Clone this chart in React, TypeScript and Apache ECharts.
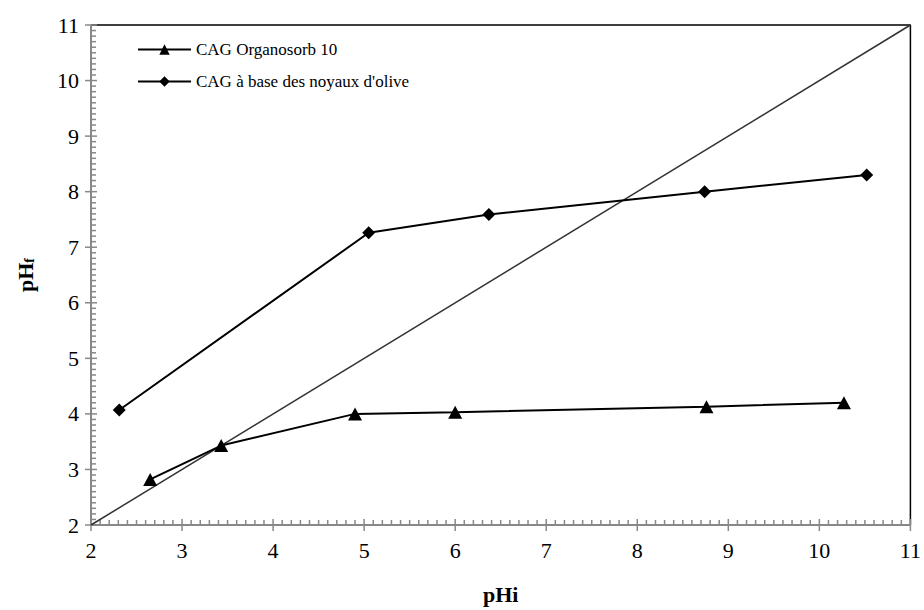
import React, { useEffect, useRef } from "react";
import * as echarts from "echarts";

const organosorbX = [2.65, 3.43, 4.9, 6.0, 8.76, 10.27];
const organosorbY = [2.82, 3.43, 4.0, 4.03, 4.13, 4.2];
const oliveX = [2.31, 5.05, 6.37, 8.74, 10.52];
const oliveY = [4.07, 7.26, 7.59, 8.0, 8.3];
const diagX = [2, 11];
const diagY = [2, 11];
const seriesNames = ["CAG Organosorb 10", "CAG à base des noyaux d'olive"];
const axisMin = 2;
const axisMax = 11;
const minorPerMajor = 10;
const frameAxesX = [2, 2, 11];
const frameAxesY = [11, 2, 2];
const frameBorderX = [2, 11, 11];
const frameBorderY = [11, 11, 2];

const zip = (xs: number[], ys: number[]) => xs.map((x, i) => [x, ys[i]]);
const tickCount = (axisMax - axisMin) * minorPerMajor + 1;
const tickVals = Array.from({ length: tickCount }, (_, i) => axisMin + i / minorPerMajor);
const majorVals = tickVals.filter((_, i) => i % minorPerMajor === 0);
const minorVals = tickVals.filter((_, i) => i % minorPerMajor !== 0);

const FONT = "Liberation Serif";

export default function App() {
  const ref = useRef<HTMLDivElement>(null);
  useEffect(() => {
    if (!ref.current) return;
    const chart = echarts.init(ref.current, null, { renderer: "svg" });
    const axisGray = "#888";
    const tickSeries = (name: string, data: number[][], size: number[], offset: number[]) => ({
      name,
      type: "scatter",
      data,
      symbol: "rect",
      symbolSize: size,
      symbolOffset: offset,
      itemStyle: { color: axisGray, opacity: 1 },
      silent: true,
      clip: false,
      z: 4,
    });
    chart.setOption({
      animation: false,
      backgroundColor: "#fff",
      textStyle: { fontFamily: FONT },
      grid: { left: 91, right: 11, top: 25, bottom: 83, show: false },
      legend: {
        data: seriesNames,
        orient: "vertical",
        left: 132,
        top: 36,
        itemWidth: 53,
        itemHeight: 13,
        itemGap: 15,
        textStyle: { fontFamily: FONT, fontSize: 17, color: "#000" },
      },
      xAxis: {
        type: "value",
        min: axisMin,
        max: axisMax,
        interval: 1,
        splitLine: { show: false },
        name: "pHi",
        nameLocation: "middle",
        nameGap: 58,
        nameTextStyle: { fontFamily: FONT, fontSize: 22, fontWeight: "bold", color: "#000" },
        axisLine: { show: false, onZero: false },
        axisTick: { show: false },
        axisLabel: { show: true, fontFamily: FONT, fontSize: 22, color: "#000", margin: 14 },
      },
      yAxis: {
        type: "value",
        min: axisMin,
        max: axisMax,
        interval: 1,
        splitLine: { show: false },
        name: "{a|pH}{b|f}",
        nameLocation: "middle",
        nameGap: 55,
        nameRotate: 90,
        nameTextStyle: {
          rich: {
            a: { fontFamily: FONT, fontSize: 22, fontWeight: "bold", color: "#000", verticalAlign: "bottom", lineHeight: 26 },
            b: { fontFamily: FONT, fontSize: 14, fontWeight: "bold", color: "#000", verticalAlign: "bottom", lineHeight: 20 },
          },
        },
        axisLine: { show: false, onZero: false },
        axisTick: { show: false },
        axisLabel: { show: true, fontFamily: FONT, fontSize: 22, color: "#000", margin: 12 },
      },
      series: [
        {
          name: "frameBorder",
          type: "line",
          data: zip(frameBorderX, frameBorderY),
          symbol: "none",
          showSymbol: false,
          lineStyle: { color: "#000", width: 1.5 },
          silent: true,
          clip: false,
          z: 3,
        },
        {
          name: "frameAxes",
          type: "line",
          data: zip(frameAxesX, frameAxesY),
          symbol: "none",
          showSymbol: false,
          lineStyle: { color: axisGray, width: 2 },
          silent: true,
          clip: false,
          z: 3,
        },
        tickSeries("xMinor", minorVals.map((v) => [v, axisMin]), [1.5, 5], [0, -2.5]),
        tickSeries("xMajor", majorVals.map((v) => [v, axisMin]), [1.5, 12], [0, 0]),
        tickSeries("yMinor", minorVals.map((v) => [axisMin, v]), [5, 1.5], [2.5, 0]),
        tickSeries("yMajor", majorVals.map((v) => [axisMin, v]), [12, 1.5], [0, 0]),
        {
          name: "diag",
          type: "line",
          data: zip(diagX, diagY),
          showSymbol: false,
          symbol: "none",
          lineStyle: { color: "#333", width: 1.5 },
          silent: true,
          z: 6,
        },
        {
          name: seriesNames[0],
          type: "line",
          data: zip(organosorbX, organosorbY),
          symbol: "triangle",
          symbolSize: [14, 13],
          itemStyle: { color: "#000" },
          lineStyle: { color: "#000", width: 2 },
          z: 7,
        },
        {
          name: seriesNames[1],
          type: "line",
          data: zip(oliveX, oliveY),
          symbol: "diamond",
          symbolSize: 13,
          itemStyle: { color: "#000" },
          lineStyle: { color: "#000", width: 2 },
          z: 7,
        },
      ],
    });
    return () => chart.dispose();
  }, []);
  return <div ref={ref} style={{ width: 924, height: 610, position: "absolute", left: 0, top: 0 }} />;
}
